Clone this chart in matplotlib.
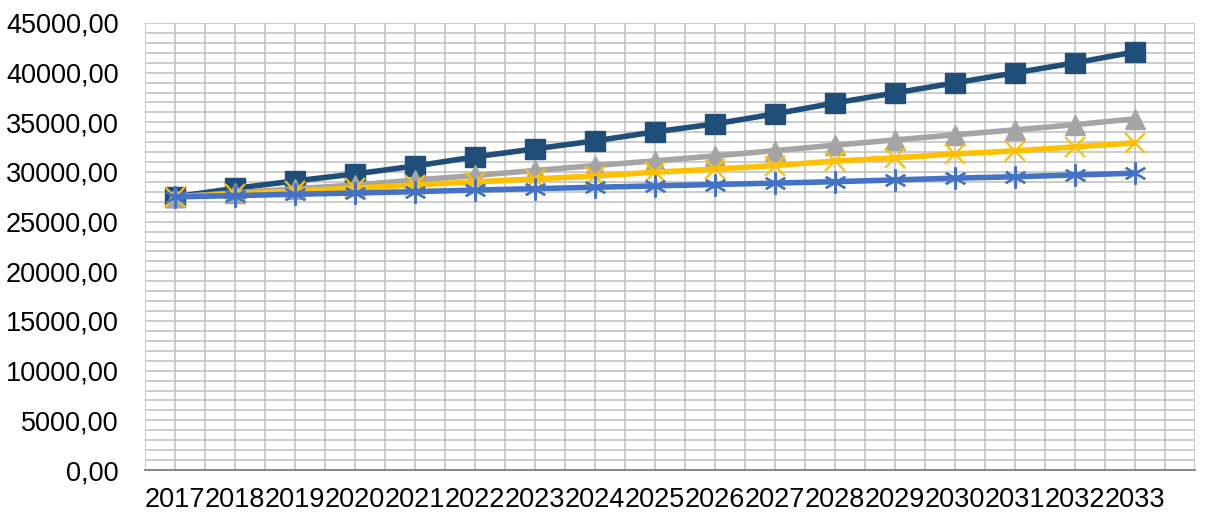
import matplotlib
matplotlib.use('Agg')
import matplotlib.pyplot as plt
from matplotlib.ticker import MultipleLocator, FuncFormatter

years = list(range(2017, 2034))

# four series
dark_blue = [27500, 28350, 29100, 29800, 30600, 31520, 32330, 33130, 34040,
             34840, 35850, 36950, 37960, 38970, 39980, 40990, 42090]
gray = [27500, 27900, 28300, 28700, 29180, 29650, 30150, 30650, 31120,
        31620, 32150, 32700, 33230, 33740, 34240, 34760, 35350]
yellow = [27500, 27780, 28080, 28380, 28700, 29000, 29300, 29600, 29980,
          30280, 30650, 31100, 31420, 31820, 32120, 32530, 32930]
blue = [27500, 27620, 27760, 27880, 28020, 28180, 28320, 28460, 28600,
        28740, 28880, 29020, 29200, 29380, 29520, 29700, 29880]

plt.rcParams['font.family'] = ['Liberation Sans', 'DejaVu Sans']

fig = plt.figure(figsize=(12.11, 5.14), dpi=100)
ax = fig.add_axes([0.1197, 0.0856, 0.8671, 0.8697])

lw = 4
ax.plot(years, dark_blue, color='#1F4E79', lw=lw, marker='s', ms=14, zorder=3)
ax.plot(years, gray, color='#A5A5A5', lw=lw, marker='^', ms=15, zorder=4)
ax.plot(years, yellow, color='#FFC000', lw=lw, marker='x', ms=15, mew=1.6, zorder=5)
ax.plot(years, blue, color='#4472C4', lw=lw, marker=(6, 2, 0), ms=16, mew=1.6, zorder=6)

ax.set_xlim(2016.5, 2034)
ax.set_ylim(0, 45000)
ax.set_xticks(years)
ax.xaxis.set_minor_locator(MultipleLocator(0.5))
ax.yaxis.set_major_locator(MultipleLocator(5000))
ax.yaxis.set_minor_locator(MultipleLocator(1000))
ax.yaxis.set_major_formatter(FuncFormatter(lambda v, p: f'{v:.2f}'.replace('.', ',')))

ax.grid(which='both', color='#BFBFBF', lw=1.1, zorder=0)
ax.set_axisbelow(True)
for s in ['top', 'right', 'left']:
    ax.spines[s].set_visible(False)
ax.spines['bottom'].set_color('#808080')
ax.spines['bottom'].set_linewidth(1.3)
ax.tick_params(which='both', length=0)
ax.tick_params(axis='y', labelsize=19.5, pad=19)
ax.tick_params(axis='x', labelsize=19.5, pad=12)

fig.savefig('out.png', dpi=100)
